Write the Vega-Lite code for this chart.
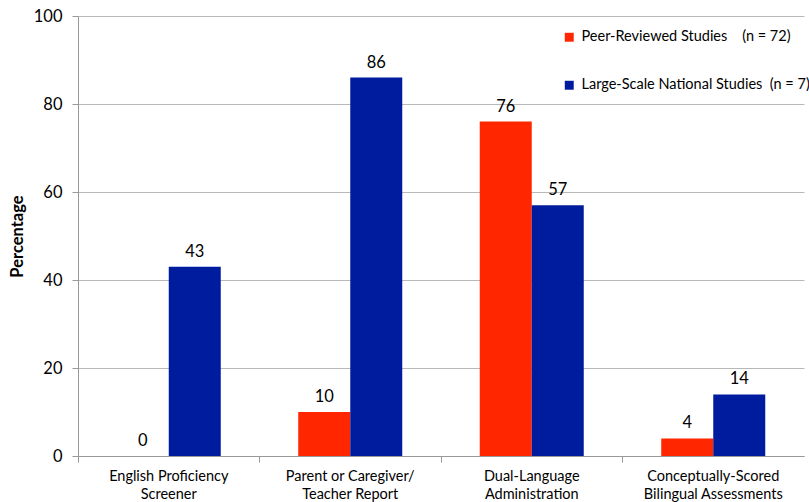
{
  "$schema": "https://vega.github.io/schema/vega-lite/v6.json",
  "width": 726,
  "height": 440,
  "autosize": {"type": "none"},
  "padding": {"left": 78, "top": 16, "right": 5, "bottom": 46},
  "background": "white",
  "config": {
    "font": "Lato",
    "view": {"stroke": null}
  },
  "data": {
    "values": [
      {"cat": "English Proficiency|Screener", "group": "Peer-Reviewed Studies", "value": 0},
      {"cat": "English Proficiency|Screener", "group": "Large-Scale National Studies", "value": 43},
      {"cat": "Parent or Caregiver/|Teacher Report", "group": "Peer-Reviewed Studies", "value": 10},
      {"cat": "Parent or Caregiver/|Teacher Report", "group": "Large-Scale National Studies", "value": 86},
      {"cat": "Dual-Language|Administration", "group": "Peer-Reviewed Studies", "value": 76},
      {"cat": "Dual-Language|Administration", "group": "Large-Scale National Studies", "value": 57},
      {"cat": "Conceptually-Scored|Bilingual Assessments", "group": "Peer-Reviewed Studies", "value": 4},
      {"cat": "Conceptually-Scored|Bilingual Assessments", "group": "Large-Scale National Studies", "value": 14}
    ]
  },
  "encoding": {
    "x": {
      "field": "cat",
      "type": "nominal",
      "sort": null,
      "scale": {"paddingInner": 0, "paddingOuter": 0},
      "axis": {
        "title": null,
        "labelAngle": 0,
        "labelExpr": "split(datum.label, '|')",
        "labelFontSize": 14.5,
        "labelColor": "#000000",
        "labelPadding": 7,
        "labelLineHeight": 18,
        "labelLimit": 300,
        "bandPosition": 0,
        "domainColor": "#999999",
        "tickColor": "#999999",
        "tickSize": 6,
        "grid": false
      }
    },
    "xOffset": {
      "field": "group",
      "type": "nominal",
      "sort": ["Peer-Reviewed Studies", "Large-Scale National Studies"],
      "scale": {"paddingInner": 0, "paddingOuter": 0.745}
    },
    "y": {
      "field": "value",
      "type": "quantitative",
      "scale": {"domain": [0, 100], "nice": false},
      "axis": {
        "title": "Percentage",
        "titleFontSize": 16.5,
        "titleFontWeight": "bold",
        "titleColor": "#000000",
        "titlePadding": 8,
        "values": [0, 20, 40, 60, 80, 100],
        "labelFontSize": 16.5,
        "labelColor": "#000000",
        "labelPadding": 10,
        "tickSize": 6,
        "tickColor": "#999999",
        "domainColor": "#999999",
        "gridColor": "#b8b8b8",
        "grid": true
      }
    }
  },
  "layer": [
    {
      "mark": {"type": "bar"},
      "encoding": {
        "color": {
          "field": "group",
          "type": "nominal",
          "sort": ["Peer-Reviewed Studies", "Large-Scale National Studies"],
          "scale": {
            "domain": ["Peer-Reviewed Studies", "Large-Scale National Studies"],
            "range": ["#FF2600", "#001C9E"]
          },
          "legend": {
            "title": null,
            "orient": "none",
            "legendX": 484,
            "legendY": 14,
            "symbolType": "square",
            "symbolSize": 80,
            "symbolStrokeWidth": 0,
            "labelFontSize": 14.5,
            "labelColor": "#000000",
            "labelLimit": 0,
            "labelOffset": 5,
            "rowPadding": 33,
            "labelExpr": "datum.label == 'Peer-Reviewed Studies' ? 'Peer-Reviewed Studies\u00a0\u00a0\u00a0\u00a0(n = 72)' : 'Large-Scale National Studies\u00a0\u00a0(n = 7)'"
          }
        }
      }
    },
    {
      "mark": {"type": "text", "baseline": "bottom", "dy": -7, "fontSize": 16.5, "color": "#000000"},
      "encoding": {
        "text": {"field": "value", "type": "quantitative"}
      }
    }
  ]
}
